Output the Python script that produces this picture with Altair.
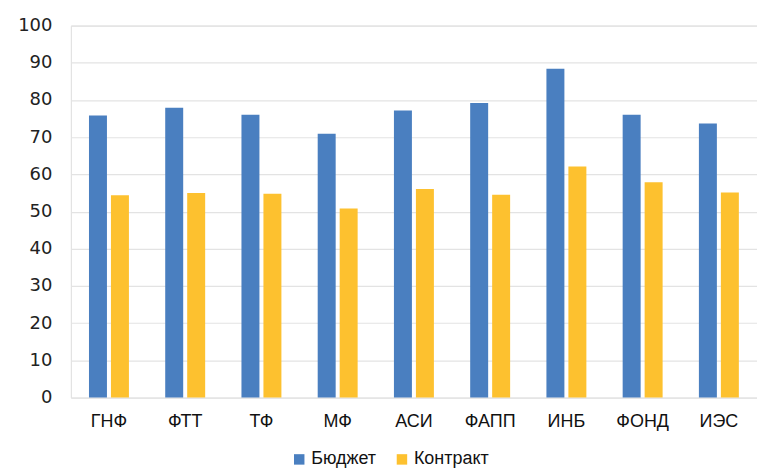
import altair as alt
import pandas as pd

categories = ["ГНФ", "ФТТ", "ТФ", "МФ", "АСИ", "ФАПП", "ИНБ", "ФОНД", "ИЭС"]
budget = [75.8, 77.9, 76.0, 70.9, 77.2, 79.2, 88.4, 76.0, 73.7]
contract = [54.4, 55.0, 54.8, 50.8, 56.1, 54.5, 62.1, 57.9, 55.1]
series = ["Бюджет", "Контракт"]
colors = ["#4A7FC0", "#FDC12F"]
y_ticks = list(range(0, 101, 10))

rows = []
for i, c in enumerate(categories):
    rows.append({"cat": c, "series": series[0], "value": budget[i]})
    rows.append({"cat": c, "series": series[1], "value": contract[i]})
df = pd.DataFrame(rows)

narrow = "Liberation Sans Narrow, Liberation Sans"

chart = (
    alt.Chart(df)
    .mark_bar()
    .encode(
        x=alt.X(
            "cat:N",
            sort=categories,
            title=None,
            scale=alt.Scale(paddingInner=0.476, paddingOuter=0.238),
            axis=alt.Axis(
                labelAngle=0,
                labelFont=narrow,
                labelFontSize=18,
                labelColor="#111111",
                labelPadding=15,
                ticks=False,
                domain=False,
            ),
        ),
        xOffset=alt.XOffset(
            "series:N", sort=series, scale=alt.Scale(paddingInner=0.182, paddingOuter=0)
        ),
        y=alt.Y(
            "value:Q",
            title=None,
            scale=alt.Scale(domain=[0, 100], nice=False),
            axis=alt.Axis(
                values=y_ticks,
                labelFont="DejaVu Sans",
                labelFontSize=18,
                labelColor="#222222",
                labelPadding=19,
                ticks=False,
                domain=False,
                grid=True,
                gridColor="#e3e3e3",
                gridWidth=1.2,
                minExtent=63,
                maxExtent=63,
            ),
        ),
        color=alt.Color(
            "series:N",
            sort=series,
            scale=alt.Scale(domain=series, range=colors),
            legend=alt.Legend(
                title=None,
                orient="none",
                direction="horizontal",
                legendX=220,
                legendY=426,
                symbolType="square",
                symbolSize=110,
                symbolStrokeWidth=0,
                labelFont=narrow,
                labelFontSize=18,
                labelColor="#111111",
                columnPadding=16,
                labelOffset=3,
            ),
        ),
    )
    .properties(width=688, height=373, padding={"left": 0, "top": 8, "right": 0, "bottom": 0})
    .configure_view(stroke=None)
    .configure(background="white")
)

chart.save("out.html", embed_options={"renderer": "svg", "actions": False})
